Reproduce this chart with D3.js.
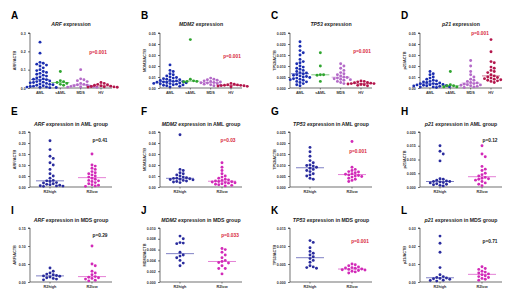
<!DOCTYPE html>
<html><head><meta charset="utf-8">
<script src="https://cdn.jsdelivr.net/npm/d3@7"></script>
<style>body{margin:0;background:#fff}svg{display:block}text{font-family:"Liberation Sans",Arial,sans-serif}</style>
</head><body><script>
// ---------- categories ----------
const groups4 = ["AML", "sAML", "MDS", "HV"];
const groups2 = ["R2high", "R2low"];

// ---------- Panel A: ARF/ACTB ----------
const A_AML = [0.25,0.19,0.14,0.135,0.13,0.125,0.12,0.11,0.10,0.095,0.09,0.085,0.08,0.075,0.07,0.065,0.06,0.055,0.05,0.048,0.045,0.04,0.038,0.035,0.032,0.03,0.028,0.025,0.022,0.02,0.018,0.015,0.012,0.01,0.008,0.006,0.005,0.004,0.003,0.002];
const A_sAML = [0.09,0.04,0.035,0.03,0.025,0.02,0.015];
const A_MDS = [0.10,0.05,0.045,0.04,0.035,0.025,0.02,0.018,0.015,0.012,0.01,0.009,0.008,0.006,0.005,0.004];
const A_HV = [0.03,0.025,0.02,0.018,0.015,0.012,0.01,0.008,0.007,0.006,0.005,0.004];
const A_ticks = [0, 0.1, 0.2, 0.3];

// ---------- Panel B: MDM2/ACTB ----------
const B_AML = [0.021,0.016,0.015,0.013,0.012,0.011,0.010,0.0095,0.009,0.0085,0.008,0.0075,0.007,0.0068,0.0065,0.006,0.0058,0.0055,0.0052,0.005,0.0048,0.0045,0.0042,0.004,0.0038,0.0035,0.003,0.0028,0.0025,0.002,0.0015,0.001];
const B_sAML = [0.044,0.008,0.0065,0.006,0.006,0.0055];
const B_MDS = [0.009,0.008,0.0075,0.007,0.0065,0.006,0.0055,0.005,0.0048,0.0045,0.004,0.0035,0.003,0.0025,0.002];
const B_HV = [0.0042,0.0035,0.003,0.0028,0.0025,0.0024,0.0022,0.002,0.0018,0.0015,0.0012];
const B_ticks = [0, 0.01, 0.02, 0.03, 0.04, 0.05];

// ---------- Panel C: TP53/ACTB ----------
const C_AML = [0.021,0.019,0.017,0.016,0.015,0.013,0.012,0.0115,0.011,0.010,0.0095,0.009,0.0085,0.008,0.0075,0.007,0.0068,0.0065,0.006,0.0058,0.0055,0.0052,0.005,0.0048,0.0045,0.0042,0.004,0.0038,0.0035,0.003,0.0028,0.0025,0.002,0.0015,0.001];
const C_sAML = [0.016,0.010,0.006,0.006,0.0058,0.003];
const C_MDS = [0.011,0.010,0.009,0.008,0.007,0.0065,0.006,0.0055,0.005,0.0048,0.0045,0.0042,0.004,0.0038,0.0035,0.003,0.0025,0.002];
const C_HV = [0.0032,0.003,0.0028,0.0025,0.0024,0.0022,0.002,0.002,0.0018,0.0016,0.0015,0.0012,0.001];
const C_ticks = [0, 0.005, 0.01, 0.015, 0.02, 0.025];

// ---------- Panel D: p21/ACTB ----------
const D_AML = [0.015,0.013,0.012,0.010,0.009,0.008,0.007,0.0065,0.006,0.0055,0.005,0.0045,0.004,0.0038,0.0035,0.0032,0.003,0.0028,0.0025,0.0022,0.002,0.0018,0.0015,0.0012,0.001,0.0008,0.0005];
const D_sAML = [0.015,0.003,0.002,0.002,0.001,0.001];
const D_MDS = [0.025,0.020,0.015,0.012,0.010,0.008,0.007,0.006,0.005,0.0045,0.004,0.0035,0.003,0.0028,0.0025,0.002,0.0015,0.001,0.0005];
const D_HV = [0.044,0.033,0.024,0.023,0.019,0.018,0.016,0.015,0.014,0.012,0.011,0.010,0.0095,0.009,0.0085,0.008,0.0075,0.007,0.0065,0.006,0.005];
const D_ticks = [0, 0.01, 0.02, 0.03, 0.04, 0.05];

// ---------- Panel E: ARF in AML ----------
const E_high = [0.21,0.17,0.14,0.13,0.11,0.10,0.08,0.06,0.05,0.04,0.03,0.028,0.025,0.02,0.018,0.015,0.012,0.01,0.008,0.006,0.005,0.004,0.003];
const E_low = [0.15,0.10,0.095,0.085,0.08,0.07,0.065,0.06,0.055,0.05,0.045,0.04,0.035,0.03,0.028,0.025,0.02,0.015,0.01,0.008,0.005,0.003];
const E_ticks = [0, 0.05, 0.10, 0.15, 0.20, 0.25];

// ---------- Panel F: MDM2 in AML ----------
const F_high = [0.0475,0.016,0.015,0.013,0.012,0.011,0.010,0.009,0.0085,0.008,0.0078,0.0075,0.007,0.0068,0.0065,0.006,0.0055,0.005,0.0045,0.004];
const F_low = [0.022,0.018,0.015,0.012,0.010,0.009,0.008,0.007,0.0065,0.006,0.0055,0.005,0.0048,0.0045,0.004,0.0038,0.0035,0.003,0.0025,0.002,0.0015,0.001];
const F_ticks = [0, 0.01, 0.02, 0.03, 0.04, 0.05];

// ---------- Panel G: TP53 in AML ----------
const G_high = [0.018,0.016,0.014,0.012,0.011,0.010,0.0098,0.0095,0.009,0.0085,0.008,0.0075,0.007,0.006,0.0055,0.005,0.004,0.0035];
const G_low = [0.0207,0.009,0.008,0.0075,0.007,0.0068,0.0065,0.006,0.0058,0.0055,0.0052,0.005,0.0048,0.0045,0.004,0.0035,0.003,0.0025];
const G_ticks = [0, 0.005, 0.010, 0.015, 0.020, 0.025];

// ---------- Panel H: p21 in AML ----------
const H_high = [0.015,0.013,0.012,0.0095,0.003,0.0028,0.0025,0.0022,0.002,0.002,0.0018,0.0016,0.0015,0.0012,0.001,0.0008,0.0006,0.0004];
const H_low = [0.015,0.012,0.011,0.0075,0.0065,0.006,0.005,0.0045,0.004,0.0035,0.0032,0.003,0.0028,0.0025,0.002,0.0015,0.001,0.0005];
const H_ticks = [0, 0.005, 0.010, 0.015, 0.020];

// ---------- Panel I: ARF in MDS ----------
const I_high = [0.039,0.03,0.025,0.022,0.02,0.018,0.017,0.016,0.014,0.012,0.01,0.008,0.006];
const I_low = [0.10,0.05,0.045,0.03,0.025,0.02,0.015,0.013,0.012,0.01,0.008,0.005,0.003];
const I_ticks = [0, 0.05, 0.10, 0.15];

// ---------- Panel J: MDM2 in MDS ----------
const J_high = [0.0085,0.008,0.0073,0.0072,0.0071,0.0055,0.005,0.0048,0.0045,0.004,0.0035,0.003];
const J_low = [0.0062,0.006,0.0055,0.005,0.0045,0.004,0.0038,0.0036,0.0035,0.003,0.0025,0.0025,0.0015];
const J_ticks = [0, 0.002, 0.004, 0.006, 0.008, 0.010];

// ---------- Panel K: TP53 in MDS ----------
const K_high = [0.0115,0.011,0.0095,0.0085,0.008,0.0075,0.007,0.0065,0.006,0.0055,0.0045,0.0042,0.004,0.0038];
const K_low = [0.005,0.0048,0.0045,0.0042,0.004,0.0039,0.0038,0.0036,0.0035,0.0034,0.0033,0.0032,0.003,0.0028,0.0025];
const K_ticks = [0, 0.005, 0.010, 0.015];

// ---------- Panel L: p21 in MDS ----------
const L_high = [0.0255,0.0215,0.0165,0.008,0.004,0.003,0.0025,0.0022,0.002,0.0018,0.0015,0.001,0.0008,0.0005];
const L_low = [0.0085,0.0075,0.007,0.006,0.0055,0.005,0.0045,0.004,0.0035,0.003,0.0025,0.002,0.0015,0.001];
const L_ticks = [0, 0.01, 0.02, 0.03];

// ---------- texts ----------
const letters = ["A","B","C","D","E","F","G","H","I","J","K","L"];
const genes = ["ARF","MDM2","TP53","p21"];
const suffixes = [" expression"," expression in AML group"," expression in MDS group"];
const pValues = ["p=0.001","p=0.001","p=0.001","p=0.001","p=0.41","p=0.03","p=0.001","p=0.12","p=0.29","p=0.033","p=0.001","p=0.71"];
const pRed = [true,true,true,true,false,true,true,false,false,true,true,false];
const tickDigits = [1,2,3,2, 2,2,3,3, 2,3,3,2];

const colors4 = ["#1b2db0","#2fa52f","#b46ac8","#b3164c"];
const colors2 = ["#2a2c9e","#d22ab8"];

const panelData = [
  [A_AML,A_sAML,A_MDS,A_HV],[B_AML,B_sAML,B_MDS,B_HV],[C_AML,C_sAML,C_MDS,C_HV],[D_AML,D_sAML,D_MDS,D_HV],
  [E_high,E_low],[F_high,F_low],[G_high,G_low],[H_high,H_low],
  [I_high,I_low],[J_high,J_low],[K_high,K_low],[L_high,L_low]
];
const panelTicks = [A_ticks,B_ticks,C_ticks,D_ticks,E_ticks,F_ticks,G_ticks,H_ticks,I_ticks,J_ticks,K_ticks,L_ticks];

// ---------- layout ----------
const W = 520, H = 303;
const svg = d3.select("body").append("svg").attr("width", W).attr("height", H);
const rowY = [[88,33],[187,132],[282,228]];
const letterY = [19,115,214];
const titleY = [26,126,222];
const pPos = [[98,54],[102,58],[102,53],[90,35],[100,142],[98,142],[98,153],[100,142],[100,237],[100,237],[100,243],[100,243]];

function swarm(vals, y, r) {
  const pts = vals.map(v => ({v, py: y(v)})).sort((a,b) => a.py - b.py);
  const placed = [];
  const gap = 2 * r * 1.12;
  for (const p of pts) {
    let k = 0, off = 0;
    while (true) {
      off = k === 0 ? 0 : (k % 2 ? 1 : -1) * Math.ceil(k/2) * gap;
      if (placed.every(q => Math.hypot(q.dx - off, q.py - p.py) >= gap)) break;
      k++;
    }
    placed.push({dx: off, py: p.py, v: p.v});
  }
  return placed;
}

panelData.forEach((series, i) => {
  const row = Math.floor(i / 4), col = i % 4;
  const x0 = col * 130;
  const g = svg.append("g");
  const cats = row === 0 ? groups4 : groups2;
  const cols = row === 0 ? colors4 : colors2;
  const ticks = panelTicks[i];
  const y = d3.scaleLinear().domain([0, d3.max(ticks)]).range(rowY[row]);
  const x = d3.scalePoint().domain(cats).range(row === 0 ? [x0+40, x0+101] : [x0+50, x0+92]);
  const axX0 = x0 + 30, axX1 = x0 + 112;

  g.append("text").attr("x", x0 + 11).attr("y", letterY[row])
    .attr("font-size", 10).attr("font-weight", "bold").text(letters[i]);
  const t = g.append("text").attr("x", x0 + 71).attr("y", titleY[row])
    .attr("text-anchor", "middle").attr("font-size", 5.2).attr("font-weight", "bold").attr("fill", "#222");
  t.append("tspan").attr("font-style", "italic").text(genes[col]);
  t.append("tspan").text(suffixes[row]);

  const ya = d3.axisLeft(y).tickValues(ticks).tickSize(2).tickFormat(d3.format("." + tickDigits[i] + "f"));
  const yg = g.append("g").attr("transform", `translate(${axX0},0)`).call(ya);
  yg.selectAll("text").attr("font-size", 3.6).attr("font-weight", "bold").attr("fill", "#333").attr("dx", 0.8);
  yg.selectAll("line,path").attr("stroke", "#333").attr("stroke-width", 0.7);
  yg.select("path").attr("d", `M-2,${y(d3.max(ticks))}H0V${y(0)}`);

  g.append("text").attr("transform", `translate(${x0 + 16},${(rowY[row][0]+rowY[row][1])/2}) rotate(-90)`)
    .attr("text-anchor", "middle").attr("font-size", 3.8).attr("font-weight", "bold").attr("fill", "#333")
    .text(genes[col] + "/ACTB");

  g.append("line").attr("x1", axX0).attr("x2", axX1).attr("y1", y(0)).attr("y2", y(0))
    .attr("stroke", "#333").attr("stroke-width", 0.7);
  cats.forEach(c => {
    g.append("line").attr("x1", x(c)).attr("x2", x(c)).attr("y1", y(0)).attr("y2", y(0) + 1.5)
      .attr("stroke", "#333").attr("stroke-width", 0.6);
    g.append("text").attr("x", x(c)).attr("y", y(0) + 5.5).attr("text-anchor", "middle")
      .attr("font-size", 3.8).attr("font-weight", "bold").attr("fill", "#333").text(c);
  });

  const r = 1.45;
  series.forEach((vals, j) => {
    const cx = x(cats[j]);
    const pts = swarm(vals, y, r);
    g.selectAll(null).data(pts).enter().append("circle")
      .attr("cx", d => cx + d.dx).attr("cy", d => d.py).attr("r", r).attr("fill", cols[j]);
    const med = d3.median(vals);
    const hw = row === 0 ? 9 : 14;
    g.append("line").attr("x1", cx - hw).attr("x2", cx + hw).attr("y1", y(med)).attr("y2", y(med))
      .attr("stroke", cols[j]).attr("stroke-width", 0.6);
  });

  g.append("text").attr("x", x0 + pPos[i][0]).attr("y", pPos[i][1]).attr("text-anchor", "middle")
    .attr("font-size", 4.8).attr("font-weight", "bold").attr("fill", pRed[i] ? "#d8283c" : "#222")
    .text(pValues[i]);
});
</script></body></html>
